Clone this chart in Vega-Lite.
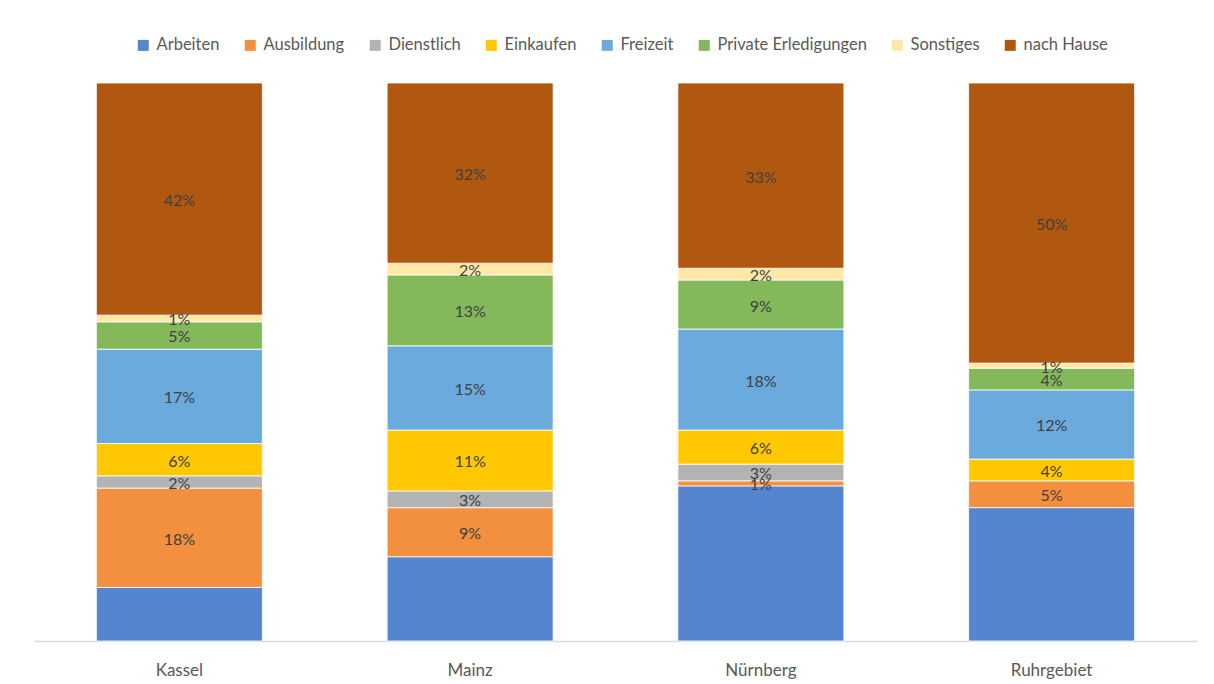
{
  "$schema": "https://vega.github.io/schema/vega-lite/v6.json",
  "autosize": {"type": "none"},
  "width": 1163,
  "height": 558,
  "padding": {"left": 34, "top": 83, "right": 17, "bottom": 43},
  "background": "white",
  "config": {
    "font": "Lato",
    "view": {"stroke": null}
  },
  "data": {
    "values": [
      {"stadt": "Kassel", "zweck": "Arbeiten", "ord": 1, "anteil": 0.096},
      {"stadt": "Kassel", "zweck": "Ausbildung", "ord": 2, "anteil": 0.178},
      {"stadt": "Kassel", "zweck": "Dienstlich", "ord": 3, "anteil": 0.022},
      {"stadt": "Kassel", "zweck": "Einkaufen", "ord": 4, "anteil": 0.058},
      {"stadt": "Kassel", "zweck": "Freizeit", "ord": 5, "anteil": 0.169},
      {"stadt": "Kassel", "zweck": "Private Erledigungen", "ord": 6, "anteil": 0.049},
      {"stadt": "Kassel", "zweck": "Sonstiges", "ord": 7, "anteil": 0.012},
      {"stadt": "Kassel", "zweck": "nach Hause", "ord": 8, "anteil": 0.416},
      {"stadt": "Mainz", "zweck": "Arbeiten", "ord": 1, "anteil": 0.151},
      {"stadt": "Mainz", "zweck": "Ausbildung", "ord": 2, "anteil": 0.088},
      {"stadt": "Mainz", "zweck": "Dienstlich", "ord": 3, "anteil": 0.030},
      {"stadt": "Mainz", "zweck": "Einkaufen", "ord": 4, "anteil": 0.109},
      {"stadt": "Mainz", "zweck": "Freizeit", "ord": 5, "anteil": 0.151},
      {"stadt": "Mainz", "zweck": "Private Erledigungen", "ord": 6, "anteil": 0.127},
      {"stadt": "Mainz", "zweck": "Sonstiges", "ord": 7, "anteil": 0.021},
      {"stadt": "Mainz", "zweck": "nach Hause", "ord": 8, "anteil": 0.323},
      {"stadt": "Nürnberg", "zweck": "Arbeiten", "ord": 1, "anteil": 0.278},
      {"stadt": "Nürnberg", "zweck": "Ausbildung", "ord": 2, "anteil": 0.009},
      {"stadt": "Nürnberg", "zweck": "Dienstlich", "ord": 3, "anteil": 0.030},
      {"stadt": "Nürnberg", "zweck": "Einkaufen", "ord": 4, "anteil": 0.061},
      {"stadt": "Nürnberg", "zweck": "Freizeit", "ord": 5, "anteil": 0.181},
      {"stadt": "Nürnberg", "zweck": "Private Erledigungen", "ord": 6, "anteil": 0.088},
      {"stadt": "Nürnberg", "zweck": "Sonstiges", "ord": 7, "anteil": 0.021},
      {"stadt": "Nürnberg", "zweck": "nach Hause", "ord": 8, "anteil": 0.332},
      {"stadt": "Ruhrgebiet", "zweck": "Arbeiten", "ord": 1, "anteil": 0.239},
      {"stadt": "Ruhrgebiet", "zweck": "Ausbildung", "ord": 2, "anteil": 0.048},
      {"stadt": "Ruhrgebiet", "zweck": "Einkaufen", "ord": 4, "anteil": 0.039},
      {"stadt": "Ruhrgebiet", "zweck": "Freizeit", "ord": 5, "anteil": 0.124},
      {"stadt": "Ruhrgebiet", "zweck": "Private Erledigungen", "ord": 6, "anteil": 0.039},
      {"stadt": "Ruhrgebiet", "zweck": "Sonstiges", "ord": 7, "anteil": 0.009},
      {"stadt": "Ruhrgebiet", "zweck": "nach Hause", "ord": 8, "anteil": 0.502}
    ]
  },
  "transform": [
    {"stack": "anteil", "groupby": ["stadt"], "sort": [{"field": "ord", "order": "ascending"}], "as": ["y0", "y1"]},
    {"calculate": "(datum.y0 + datum.y1) / 2", "as": "ymid"}
  ],
  "encoding": {
    "x": {
      "field": "stadt",
      "type": "nominal",
      "sort": ["Kassel", "Mainz", "Nürnberg", "Ruhrgebiet"],
      "scale": {"paddingInner": 0.429, "paddingOuter": 0.2145},
      "axis": {
        "title": null,
        "labelAngle": 0,
        "ticks": false,
        "labelFontSize": 17,
        "labelColor": "#595959",
        "labelPadding": 21,
        "domainColor": "#d9d9d9",
        "domainWidth": 1.5,
        "grid": false
      }
    }
  },
  "layer": [
    {
      "mark": {"type": "bar", "stroke": "white", "strokeWidth": 0.8},
      "encoding": {
        "y": {"field": "y0", "type": "quantitative", "scale": {"domain": [0, 1], "nice": false, "zero": true}, "axis": null},
        "y2": {"field": "y1"},
        "color": {
          "field": "zweck",
          "type": "nominal",
          "scale": {
            "domain": ["Arbeiten", "Ausbildung", "Dienstlich", "Einkaufen", "Freizeit", "Private Erledigungen", "Sonstiges", "nach Hause"],
            "range": ["#5585CF", "#F39040", "#B3B3B3", "#FFC800", "#6AAADC", "#83B85B", "#FFE8A6", "#B0580F"]
          },
          "legend": {
            "title": null,
            "orient": "none",
            "direction": "horizontal",
            "columns": 8,
            "legendX": 101,
            "legendY": -46,
            "symbolType": "square",
            "symbolSize": 121,
            "symbolStrokeWidth": 0,
            "labelFontSize": 16.5,
            "labelColor": "#595959",
            "labelOffset": 5,
            "columnPadding": 22
          }
        }
      }
    },
    {
      "transform": [{"filter": "datum.zweck != 'Arbeiten'"}],
      "mark": {"type": "text", "fontSize": 16, "color": "#404040", "baseline": "middle", "align": "center", "dy": 2},
      "encoding": {
        "y": {"field": "ymid", "type": "quantitative"},
        "text": {"field": "anteil", "type": "quantitative", "format": ".0%"}
      }
    }
  ]
}
